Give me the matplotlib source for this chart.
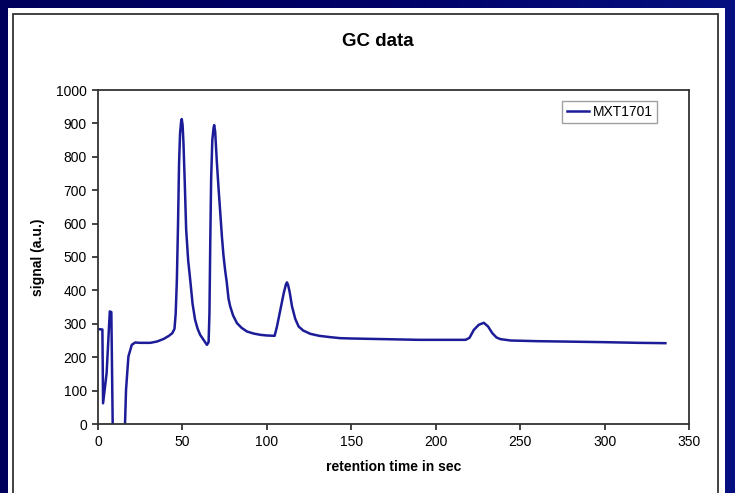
import matplotlib

matplotlib.use("Agg")
import matplotlib.pyplot as plt
import numpy as np
from matplotlib.patches import Rectangle


RETENTION_TIME = [
    0, 2.6, 3.0, 5.1, 6.1, 6.6, 7.0, 7.9, 8.7, 9.2, 15.6, 16.0, 16.6, 18.0,
    20.0, 22, 25, 31, 35, 39, 42, 44, 45.3, 46.0, 46.7, 47.4, 48.0, 48.6,
    49.2, 49.6, 50.1, 50.6, 51.4, 52.2, 53.4, 54.6, 56, 57.5, 59, 60.5, 62.5,
    64.5, 65.5, 66.0, 66.5, 67.0, 67.7, 68.4, 68.8, 69.4, 70.4, 71.4, 72.4,
    73.4, 74.3, 75.3, 76.3, 77.3, 78.3, 80, 82.3, 85, 88.2, 92, 96.1, 100,
    104.6, 106, 108, 110, 111.3, 111.9, 112.6, 113.5, 114.9, 116.8, 118.8,
    121.5, 125.7, 131, 137.6, 143.5, 150, 170, 190, 205, 217.7, 220, 222.6,
    225.5, 228.5, 231, 233.5, 236, 238.4, 244.4, 260, 274, 300, 320, 336,
]
SIGNAL = [
    284, 283, 62, 152, 250, 300, 337, 335, 0, -60, -60, 0, 102, 202,
    237, 244, 243, 243, 247, 255, 264, 272, 285, 330, 430, 600, 780, 870,
    905, 913, 895, 843, 720, 583, 490, 432, 360, 312, 285, 267, 252,
    237, 245, 332, 550, 733, 850, 885, 895, 875, 783, 705, 633,
    560, 505, 460, 422, 375, 352, 325, 302, 288, 277, 271, 267, 265,
    264, 292, 342, 392, 418, 424, 416, 395, 352, 315, 292,
    280, 270, 264, 260, 257, 256, 254, 252, 252, 252, 258, 282,
    297, 303, 292, 272, 259, 254, 250, 248, 247, 245, 243, 242,
]
SERIES_NAME = "MXT1701"
X_TICKS = [0, 50, 100, 150, 200, 250, 300, 350]
Y_TICKS = [0, 100, 200, 300, 400, 500, 600, 700, 800, 900, 1000]

NAVY = "#00005c"
LINE_COLOR = "#1c1c98"


def draw_background(fig) -> None:
    # slide-like navy gradient behind the white chart panel
    bg = fig.add_axes([0, 0, 1, 1], zorder=-10)
    grad = np.linspace(0, 1, 256)[None, :]
    cmap = matplotlib.colors.LinearSegmentedColormap.from_list(
        "slide", [NAVY, "#000066", "#061080"]
    )
    bg.imshow(grad, aspect="auto", cmap=cmap, extent=(0, 1, 0, 1))
    bg.set_axis_off()

    fig.patches.append(
        Rectangle((8 / 735, 0), 717 / 735, 1 - 8 / 493, transform=fig.transFigure,
                  facecolor="white", edgecolor="none", zorder=-5)
    )
    fig.patches.append(
        Rectangle((13 / 735, -0.02), 705 / 735, 1.02 - 14 / 493, transform=fig.transFigure,
                  facecolor="none", edgecolor="#333333", linewidth=1.3, zorder=-4)
    )


def main() -> None:
    plt.rcParams["font.family"] = ["Liberation Sans", "DejaVu Sans"]

    fig = plt.figure(figsize=(7.35, 4.93), dpi=100)
    draw_background(fig)

    ax = fig.add_axes([98 / 735, 1 - 424 / 493, 591 / 735, 334 / 493])
    ax.plot(RETENTION_TIME, SIGNAL, color=LINE_COLOR, linewidth=1.8, label=SERIES_NAME)

    ax.set_xlim(0, 350)
    ax.set_ylim(0, 1000)
    ax.set_xticks(X_TICKS)
    ax.set_yticks(Y_TICKS)
    ax.tick_params(labelsize=10, length=4, width=1.2, color="#222222", pad=4)
    for spine in ax.spines.values():
        spine.set_color("#333333")
        spine.set_linewidth(1.3)

    ax.set_xlabel("retention time in sec", fontsize=10, weight="bold", labelpad=8)
    ax.set_ylabel("signal (a.u.)", fontsize=10, weight="bold", labelpad=8)
    fig.text(377.5 / 735, 1 - 42 / 493, "GC data",
             ha="center", va="center", fontsize=13.5, weight="bold")

    leg = ax.legend(loc="upper right", bbox_to_anchor=(0.946, 0.968), fontsize=10,
                    fancybox=False, handlelength=1.6, handletextpad=0.3,
                    borderpad=0.3, borderaxespad=0)
    leg.get_frame().set_edgecolor("#888888")
    leg.get_frame().set_linewidth(1.0)

    fig.savefig("out.png", dpi=100)
    plt.close(fig)


if __name__ == "__main__":
    main()
